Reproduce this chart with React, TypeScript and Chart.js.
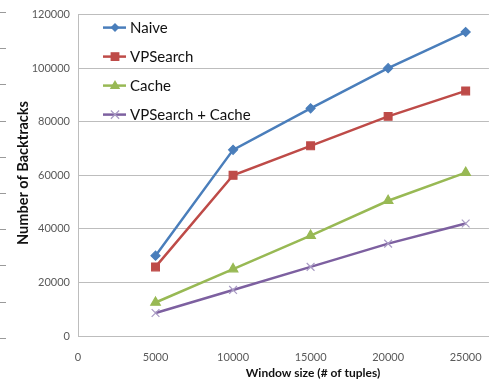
import React, { useEffect, useRef } from "react";
import { Chart, registerables } from "chart.js";

Chart.register(...registerables);

const windowSizes = [5000, 10000, 15000, 20000, 25000];
const naive = [30000, 69500, 85000, 100000, 113500];
const vpSearch = [25800, 60000, 71000, 82000, 91500];
const cache = [12500, 25000, 37500, 50500, 61000];
const vpSearchCache = [8600, 17200, 25800, 34500, 42000];

const xTickValues = [0, 5000, 10000, 15000, 20000, 25000];
const yTickValues = [0, 20000, 40000, 60000, 80000, 100000, 120000];

const seriesNames = ["Naive", "VPSearch", "Cache", "VPSearch + Cache"];
const lineColors = ["#4a7ebb", "#be4b48", "#98b954", "#7d60a0"];
const markerColors = ["#4a7ebb", "#be4b48", "#98b954", "#a99bc4"];
const markerStyles = ["rectRot", "rect", "triangle", "crossRot"];
const markerSizes = [4.5, 5.5, 5.5, 5.5];

const xTitle = "Window size (# of tuples)";
const yTitle = "Number of Backtracks";

const FONT = "Lato, 'Open Sans', sans-serif";

function drawMarker(ctx: CanvasRenderingContext2D, style: string, r: number, x: number, y: number) {
  ctx.beginPath();
  if (style === "rectRot") {
    ctx.moveTo(x, y - r);
    ctx.lineTo(x + r, y);
    ctx.lineTo(x, y + r);
    ctx.lineTo(x - r, y);
    ctx.closePath();
    ctx.fill();
  } else if (style === "rect") {
    const s = r * 0.8;
    ctx.rect(x - s, y - s, s * 2, s * 2);
    ctx.fill();
  } else if (style === "triangle") {
    ctx.moveTo(x, y - r);
    ctx.lineTo(x + r * 0.95, y + r * 0.6);
    ctx.lineTo(x - r * 0.95, y + r * 0.6);
    ctx.closePath();
    ctx.fill();
  } else {
    const s = r * 0.75;
    ctx.moveTo(x - s, y - s);
    ctx.lineTo(x + s, y + s);
    ctx.moveTo(x + s, y - s);
    ctx.lineTo(x - s, y + s);
    ctx.stroke();
  }
}

// Legend inside the plot area (top-left), axis titles, and the small
// tick stubs along the left page edge
const decorations = {
  id: "decorations",
  afterDatasetsDraw(chart: any) {
    const ctx = chart.ctx as CanvasRenderingContext2D;
    const x0 = chart.chartArea.left + 25;
    const y0 = chart.chartArea.top + 13;
    const step = 29;
    ctx.save();
    chart.data.datasets.forEach((ds: any, i: number) => {
      const y = y0 + i * step;
      ctx.strokeStyle = ds.borderColor;
      ctx.lineWidth = 2.5;
      ctx.beginPath();
      ctx.moveTo(x0, y);
      ctx.lineTo(x0 + 23, y);
      ctx.stroke();
      ctx.fillStyle = ds.pointBackgroundColor;
      ctx.strokeStyle = ds.pointBorderColor;
      ctx.lineWidth = 1.2;
      drawMarker(ctx, ds.pointStyle, ds.pointRadius, x0 + 12, y);
      ctx.fillStyle = "#111";
      ctx.font = `15px ${FONT}`;
      ctx.textBaseline = "middle";
      ctx.textAlign = "left";
      ctx.fillText(ds.label, x0 + 27, y + 1);
    });

    // axis titles
    ctx.fillStyle = "#111";
    ctx.textAlign = "center";
    ctx.textBaseline = "middle";
    ctx.font = `bold 12px ${FONT}`;
    ctx.fillText(xTitle, 313, 373);
    ctx.save();
    ctx.translate(23, 173);
    ctx.rotate(-Math.PI / 2);
    ctx.font = `bold 14.5px ${FONT}`;
    ctx.fillText(yTitle, 0, 0);
    ctx.restore();

    // stubs at the left edge
    ctx.strokeStyle = "#9a9a9a";
    ctx.lineWidth = 1;
    for (let k = 0; k < 10; k++) {
      const y = Math.round(12 + k * 36.2) + 0.5;
      ctx.beginPath();
      ctx.moveTo(0, y);
      ctx.lineTo(6, y);
      ctx.stroke();
    }
    ctx.restore();
  },
};

export default function App() {
  const canvasRef = useRef<HTMLCanvasElement>(null);

  useEffect(() => {
    document.body.style.margin = "0";
    const seriesData = [naive, vpSearch, cache, vpSearchCache];
    const chart = new Chart(canvasRef.current!, {
      type: "line",
      data: {
        datasets: seriesData.map((vals, i) => ({
          label: seriesNames[i],
          data: vals.map((v, j) => ({ x: windowSizes[j], y: v })),
          borderColor: lineColors[i],
          backgroundColor: lineColors[i],
          borderWidth: 2.5,
          pointStyle: markerStyles[i] as any,
          pointRadius: markerSizes[i],
          pointBackgroundColor: markerColors[i],
          pointBorderColor: markerColors[i],
          pointBorderWidth: 1.2,
          tension: 0,
        })),
      },
      options: {
        animation: false,
        responsive: false,
        layout: { padding: { top: 12, right: 0, left: 0, bottom: 0 } },
        plugins: { legend: { display: false }, tooltip: { enabled: false } },
        scales: {
          x: {
            type: "linear",
            min: 0,
            max: 26500,
            afterBuildTicks: (scale: any) => {
              scale.ticks = xTickValues.map((value) => ({ value }));
            },
            afterFit: (scale: any) => {
              scale.height = 49;
            },
            ticks: {
              autoSkip: false,
              color: "#595959",
              font: { family: FONT, size: 11 },
              maxRotation: 0,
              padding: 15,
              callback: (v: any) => String(v),
            },
            grid: { display: false, drawTicks: false },
            border: { color: "#bdbdbd", width: 1 },
          },
          y: {
            min: 0,
            max: 120000,
            afterBuildTicks: (scale: any) => {
              scale.ticks = yTickValues.map((value) => ({ value }));
            },
            afterFit: (scale: any) => {
              scale.width = 78;
            },
            ticks: {
              color: "#595959",
              font: { family: FONT, size: 11 },
              padding: 8,
              callback: (v: any) => String(v),
            },
            grid: { color: "#bdbdbd", lineWidth: 1, drawTicks: false },
            border: { color: "#bdbdbd", width: 1 },
          },
        },
      },
      plugins: [decorations],
    });
    return () => chart.destroy();
  }, []);

  return <canvas ref={canvasRef} width={497} height={385} style={{ display: "block" }} />;
}
